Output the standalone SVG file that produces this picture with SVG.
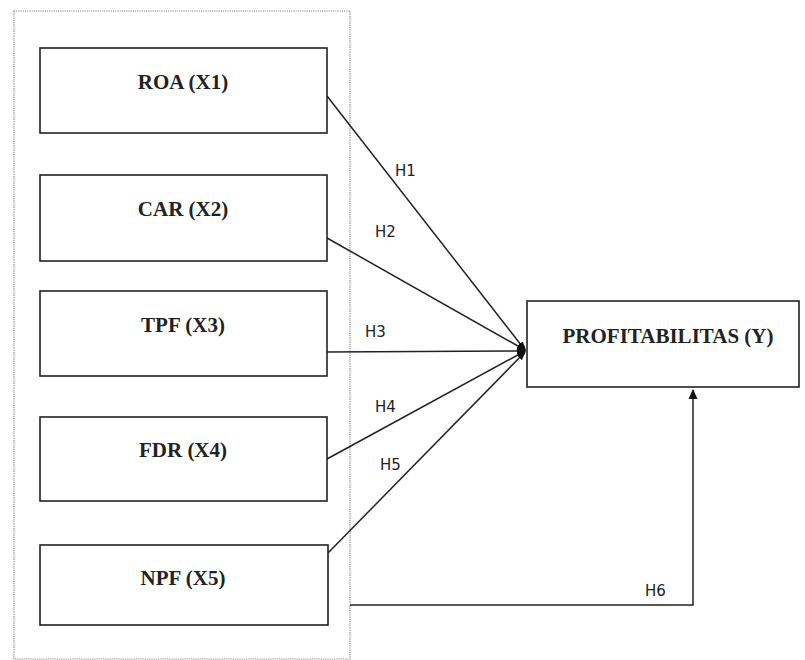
<svg xmlns="http://www.w3.org/2000/svg" width="805" height="660" viewBox="0 0 805 660">
<style>
.box{fill:#fff;stroke:#222;stroke-width:1.6}
.lbl{font-family:"Liberation Serif","Times New Roman",serif;font-weight:bold;font-size:21px;fill:#222;text-anchor:middle}
.h{font-family:"DejaVu Sans",Verdana,sans-serif;font-size:15px;fill:#222}
.c{stroke:#222;stroke-width:1.5;fill:none}
</style>
<defs>
<marker id="ah" viewBox="0 0 10 10" refX="9" refY="5" markerWidth="9" markerHeight="9" markerUnits="userSpaceOnUse" orient="auto">
<path d="M0,1 L10,5 L0,9 z" fill="#111"/>
</marker>
<marker id="ah2" viewBox="0 0 10 10" refX="9" refY="5" markerWidth="10" markerHeight="10" markerUnits="userSpaceOnUse" orient="auto">
<path d="M0,0.5 L10,5 L0,9.5 z" fill="#111"/>
</marker>
</defs>
<rect width="805" height="660" fill="#fff"/>
<rect id="frame" x="14" y="11" width="336" height="648" fill="none" stroke="#888" stroke-width="1.2" stroke-dasharray="1.2 1"/>
<g id="connectors">
<line class="c" x1="327" y1="96" x2="525" y2="350" marker-end="url(#ah)"/>
<line class="c" x1="327" y1="238" x2="525" y2="350" marker-end="url(#ah)"/>
<line class="c" x1="327" y1="352" x2="525" y2="351" marker-end="url(#ah)"/>
<line class="c" x1="327" y1="459" x2="525" y2="351" marker-end="url(#ah)"/>
<line class="c" x1="328" y1="553" x2="525" y2="352" marker-end="url(#ah)"/>
<ellipse cx="522" cy="350" rx="3.5" ry="6" fill="#111"/>
<polyline class="c" points="350,605 693,605 693,390" marker-end="url(#ah2)"/>
<text class="h" x="395" y="176">H1</text>
<text class="h" x="375" y="237">H2</text>
<text class="h" x="365" y="337">H3</text>
<text class="h" x="375" y="412">H4</text>
<text class="h" x="380" y="470">H5</text>
<text class="h" x="645" y="596">H6</text>
</g>
<g id="roa"><rect class="box" x="40" y="48" width="287" height="85"/><text class="lbl" x="183" y="89">ROA (X1)</text></g>
<g id="car"><rect class="box" x="40" y="175" width="287" height="86"/><text class="lbl" x="183" y="216">CAR (X2)</text></g>
<g id="tpf"><rect class="box" x="40" y="291" width="287" height="85"/><text class="lbl" x="183" y="332">TPF (X3)</text></g>
<g id="fdr"><rect class="box" x="40" y="417" width="287" height="84"/><text class="lbl" x="183" y="457">FDR (X4)</text></g>
<g id="npf"><rect class="box" x="40" y="545" width="288" height="80"/><text class="lbl" x="183" y="585">NPF (X5)</text></g>
<g id="profitabilitas"><rect class="box" x="527" y="301" width="272" height="86"/><text class="lbl" x="668" y="343">PROFITABILITAS (Y)</text></g>
</svg>
